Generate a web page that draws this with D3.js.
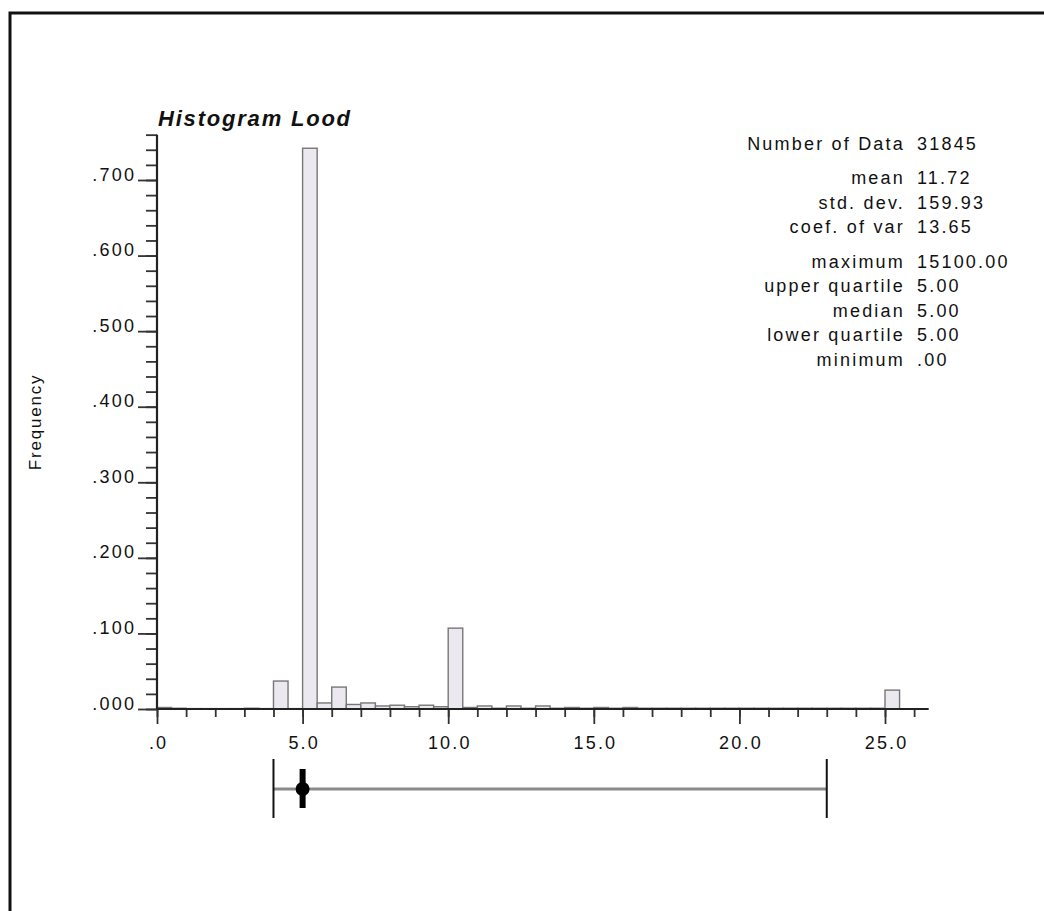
<!DOCTYPE html>
<html>
<head>
<meta charset="utf-8">
<script src="https://cdn.jsdelivr.net/npm/d3@7/dist/d3.min.js"></script>
<style>
  html, body { margin: 0; padding: 0; background: #fff; }
  svg { display: block; }
  text { font-family: "Liberation Sans", Arial, Helvetica, sans-serif; fill: #111; }
</style>
</head>
<body>
<svg id="chart" width="1044" height="911"></svg>
<script>
// Histogram of "Lood": bin starts (width 0.5) and relative frequencies
const binWidth = 0.5;
const binStarts = [
  0.0, 0.5, 1.0, 1.5, 2.0, 2.5, 3.0, 3.5, 4.0, 4.5,
  5.0, 5.5, 6.0, 6.5, 7.0, 7.5, 8.0, 8.5, 9.0, 9.5,
  10.0, 10.5, 11.0, 11.5, 12.0, 12.5, 13.0, 13.5, 14.0, 14.5,
  15.0, 15.5, 16.0, 16.5, 17.0, 17.5, 18.0, 18.5, 19.0, 19.5,
  20.0, 20.5, 21.0, 21.5, 22.0, 22.5, 23.0, 23.5, 24.0, 24.5,
  25.0
];
const frequencies = [
  0.002, 0.001, 0.0005, 0.0005, 0.0005, 0.0005, 0.001, 0.0005, 0.037, 0.0005,
  0.742, 0.008, 0.029, 0.006, 0.008, 0.004, 0.005, 0.003, 0.005, 0.003,
  0.107, 0.002, 0.004, 0.001, 0.004, 0.001, 0.004, 0.001, 0.002, 0.001,
  0.002, 0.001, 0.002, 0.001, 0.001, 0.001, 0.001, 0.001, 0.001, 0.001,
  0.001, 0.001, 0.001, 0.001, 0.001, 0.001, 0.001, 0.001, 0.001, 0.001,
  0.025
];

// Axis ticks
const xMajorTicks = [0, 5, 10, 15, 20, 25];
const xTickLabels = [".0", "5.0", "10.0", "15.0", "20.0", "25.0"];
const yMajorTicks = [0, 0.1, 0.2, 0.3, 0.4, 0.5, 0.6, 0.7];
const yTickLabels = [".000", ".100", ".200", ".300", ".400", ".500", ".600", ".700"];

// Summary statistics panel
const statLabels = ["Number of Data", "mean", "std. dev.", "coef. of var",
  "maximum", "upper quartile", "median", "lower quartile", "minimum"];
const statValues = ["31845", "11.72", "159.93", "13.65",
  "15100.00", "5.00", "5.00", "5.00", ".00"];

// Box plot summary drawn beneath the axis
const boxLow = 4.0, boxQ1 = 5.0, boxMedian = 5.0, boxQ3 = 5.0, boxHigh = 23.0;

const svg = d3.select("#chart");

// outer frame
svg.append("rect")
  .attr("x", 10).attr("y", 13)
  .attr("width", 1100).attr("height", 1000)
  .attr("fill", "none").attr("stroke", "#111").attr("stroke-width", 3);

const x = d3.scaleLinear().domain([0, 25]).range([157, 885]);
const y = d3.scaleLinear().domain([0, 0.7]).range([709, 180]);
const xMax = 26.5, yMax = 0.76;

const FS = 18, LS = "2.2px";

// bars
svg.append("g").selectAll("rect")
  .data(binStarts.map((s, i) => ({ s, f: frequencies[i] })))
  .join("rect")
  .attr("x", d => x(d.s))
  .attr("width", d => x(d.s + binWidth) - x(d.s))
  .attr("y", d => y(d.f))
  .attr("height", d => y(0) - y(d.f))
  .attr("fill", "#ebe8ef")
  .attr("stroke", "#777")
  .attr("stroke-width", 1.4);

// x axis with minor ticks every 1.0
const xMinor = d3.range(0, 27, 1);
const xAxisMinor = d3.axisBottom(x).tickValues(xMinor).tickSize(8).tickFormat("");
const xAxisMajor = d3.axisBottom(x).tickValues(xMajorTicks).tickSize(15)
  .tickFormat((d, i) => xTickLabels[i]).tickPadding(6);

const gx1 = svg.append("g").attr("transform", `translate(0,${y(0)})`).call(xAxisMinor);
const gx2 = svg.append("g").attr("transform", `translate(0,${y(0)})`).call(xAxisMajor);
[gx1, gx2].forEach(g => {
  g.select(".domain").remove();
  g.selectAll("line").attr("stroke", "#333").attr("stroke-width", 1.8);
});
gx2.selectAll("text")
  .attr("font-size", FS).attr("fill", "#222")
  .attr("y", 40).attr("dy", 0)
  .style("letter-spacing", LS)
  .attr("dx", "1.1px");

svg.append("line")
  .attr("x1", x(0)).attr("x2", x(xMax))
  .attr("y1", y(0)).attr("y2", y(0))
  .attr("stroke", "#222").attr("stroke-width", 2.2);

// y axis with minor ticks every .020
const yMinor = d3.range(0, 39).map(i => i * 0.02);
const yAxisMinor = d3.axisLeft(y).tickValues(yMinor).tickSize(11).tickFormat("");
const yAxisMajor = d3.axisLeft(y).tickValues(yMajorTicks).tickSize(19)
  .tickFormat((d, i) => yTickLabels[i]).tickPadding(4);

const gy1 = svg.append("g").attr("transform", `translate(${x(0)},0)`).call(yAxisMinor);
const gy2 = svg.append("g").attr("transform", `translate(${x(0)},0)`).call(yAxisMajor);
[gy1, gy2].forEach(g => {
  g.select(".domain").remove();
  g.selectAll("line").attr("stroke", "#333").attr("stroke-width", 1.8);
});
gy2.selectAll("text")
  .attr("font-size", FS).attr("fill", "#222")
  .attr("dy", "0")
  .style("letter-spacing", LS)
  .attr("dx", "2.2px");

svg.append("line")
  .attr("x1", x(0)).attr("x2", x(0))
  .attr("y1", y(0)).attr("y2", y(yMax))
  .attr("stroke", "#222").attr("stroke-width", 2.2);

// title
svg.append("text")
  .attr("x", 158).attr("y", 126)
  .attr("font-size", 22).attr("font-weight", "bold").attr("font-style", "italic")
  .style("letter-spacing", "1.8px")
  .text("Histogram Lood");

// y axis label
svg.append("text")
  .attr("transform", "translate(41,422) rotate(-90)")
  .attr("text-anchor", "middle")
  .attr("font-size", 17).attr("fill", "#222")
  .style("letter-spacing", "1.8px")
  .text("Frequency");

// statistics panel
const rowY = [];
let yy = 150;
statLabels.forEach((_, i) => {
  if (i === 1 || i === 4) yy += 9.6;
  rowY.push(yy);
  yy += 24.6;
});
const stats = svg.append("g");
stats.selectAll("text.lab")
  .data(statLabels).join("text").attr("class", "lab")
  .attr("x", 905).attr("y", (d, i) => rowY[i])
  .attr("text-anchor", "end")
  .attr("font-size", FS).attr("fill", "#222")
  .style("letter-spacing", LS)
  .text(d => d);
stats.selectAll("text.val")
  .data(statValues).join("text").attr("class", "val")
  .attr("x", 917).attr("y", (d, i) => rowY[i])
  .attr("font-size", FS).attr("fill", "#222")
  .style("letter-spacing", LS)
  .text(d => d);

// box plot
const by = 789;
const box = svg.append("g");
box.append("line")
  .attr("x1", x(boxLow)).attr("x2", x(boxHigh))
  .attr("y1", by).attr("y2", by)
  .attr("stroke", "#8a8a8a").attr("stroke-width", 3);
[boxLow, boxHigh].forEach(v => {
  box.append("line")
    .attr("x1", x(v)).attr("x2", x(v))
    .attr("y1", by - 30).attr("y2", by + 29)
    .attr("stroke", "#111").attr("stroke-width", 2);
});
box.append("rect")
  .attr("x", x(boxQ1) - 3).attr("width", x(boxQ3) - x(boxQ1) + 6)
  .attr("y", by - 20).attr("height", 39)
  .attr("fill", "#000");
box.append("circle")
  .attr("cx", x(boxMedian)).attr("cy", by)
  .attr("r", 7).attr("fill", "#000");
</script>
</body>
</html>
